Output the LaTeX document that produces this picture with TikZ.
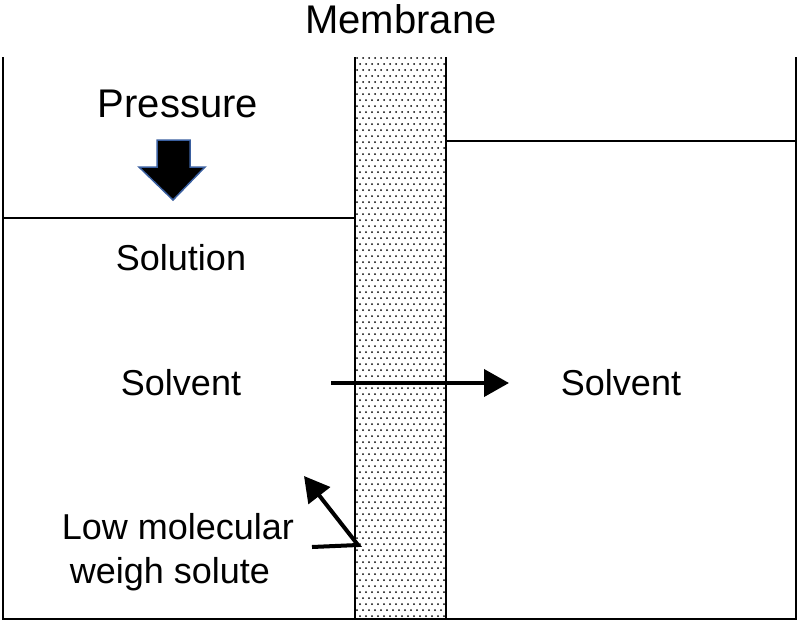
\documentclass[tikz,border=0pt]{standalone}
\usepackage{fontspec}
\setmainfont{Liberation Sans}
\usetikzlibrary{arrows.meta}
\definecolor{arrowblue}{HTML}{3A5F9F}
\tikzset{
  wall/.style={line width=2.2pt, black},
  lbl/.style={anchor=base, inner sep=0pt, font=\fontsize{36}{40}\selectfont},
  biglbl/.style={anchor=base, inner sep=0pt, font=\fontsize{40}{44}\selectfont},
  flow/.style={line width=4pt, -{Triangle[length=25pt,width=27pt]}},
}
\begin{document}
\begin{tikzpicture}[x=1pt,y=-1pt]
\useasboundingbox (0,0) rectangle (800,622);
% membrane dots
\begin{scope}
\clip (355,57) rectangle (446,619);
\foreach \r in {0,...,94}{
  \pgfmathsetmacro{\yy}{58+6*\r}
  \pgfmathsetmacro{\off}{mod(\r,2)*3}
  \foreach \c in {0,...,15}{
    \fill[black] ({357+\off+6*\c},\yy) circle (1.0);
  }
}
\end{scope}
% frame
\draw[wall] (3,57) -- (3,619) -- (796,619) -- (796,57);
\draw[wall] (355,57) -- (355,619);
\draw[wall] (446,57) -- (446,619);
% liquid surfaces
\draw[line width=1.6pt] (3,218) -- (355,218);
\draw[line width=1.6pt] (446,141) -- (796,141);
% labels
\node[biglbl] (membrane) at (401,33) {Membrane};
\node[biglbl] (pressure) at (178,117) {Pressure};
\node[lbl] (solution) at (181,270) {Solution};
\node[lbl] (solventL) at (181,395) {Solvent};
\node[lbl] (solventR) at (621,395) {Solvent};
\node[lbl] (lowmol) at (178,539) {Low molecular};
\node[lbl] (weigh) at (170,583) {weigh solute};
% pressure block arrow
\filldraw[fill=black, draw=arrowblue, line width=1.5pt]
  (157,140) -- (190,140) -- (190,167) -- (205,167) -- (173,200) -- (139,167) -- (157,167) -- cycle;
% solvent flow arrow
\coordinate (flowstart) at (331,383);
\coordinate (flowend) at (509,383);
\draw[flow] (flowstart) -- (flowend);
% solute rejection arrow
\coordinate (solstart) at (312,547);
\coordinate (solcorner) at (358,545);
\coordinate (solend) at (304,476);
\draw[flow, line join=miter] (solstart) -- (solcorner) -- (solend);
\end{tikzpicture}
\end{document}
